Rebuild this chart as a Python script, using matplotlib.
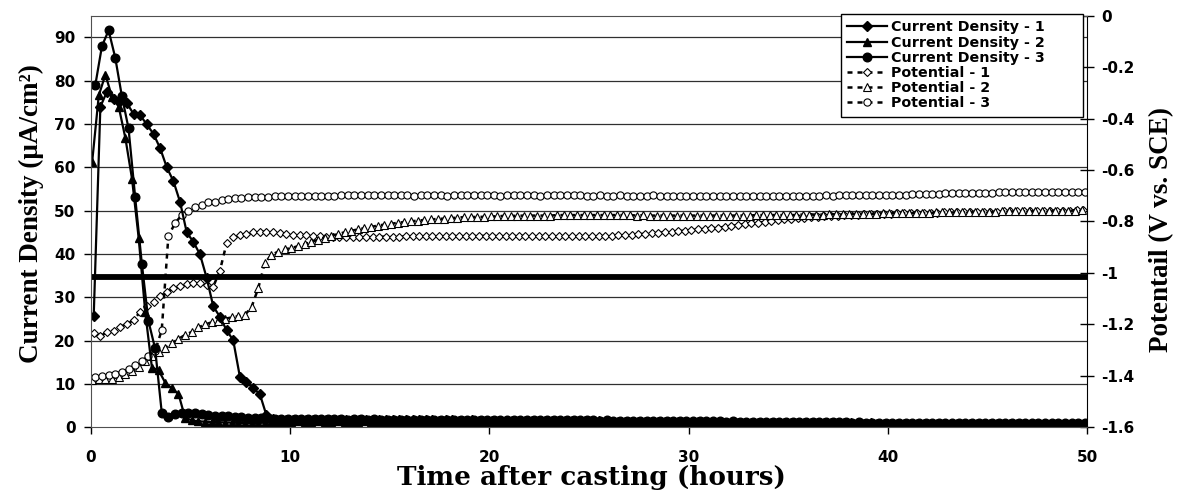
import numpy as np
import matplotlib.pyplot as plt

plt.rcParams.update({
    "font.family": "DejaVu Sans",
    "font.weight": "bold",
    "font.size": 11,
})

# readings every 20 min; first reading time (h) of each specimen
dt = 1 / 3
t0_1, t0_2, t0_3 = 0.15, 0.07, 0.23

# current density (uA/cm2)
cd_1 = [25.8, 74.0, 77.5, 75.7, 75.2, 74.8, 72.3, 72.0, 69.9, 67.7, 64.4, 60.0, 56.8, 52.0, 45.0,
        42.8, 39.9, 34.5, 27.9, 25.5, 22.4, 20.1, 11.7, 10.5, 9.0, 7.7, 2.8, 1.9, 1.8, 1.8,
        1.8, 1.8, 1.7, 1.8, 1.7, 1.7, 1.8, 1.7, 1.7, 1.7, 1.7, 1.6, 1.7, 1.7, 1.6,
        1.6, 1.7, 1.6, 1.6, 1.6, 1.6, 1.6, 1.5, 1.6, 1.6, 1.5, 1.5, 1.6, 1.5, 1.5,
        1.5, 1.5, 1.5, 1.5, 1.4, 1.5, 1.4, 1.5, 1.4, 1.4, 1.4, 1.4, 1.4, 1.3, 1.4,
        1.3, 1.4, 1.3, 1.3, 1.3, 1.3, 1.3, 1.2, 1.3, 1.2, 1.2, 1.2, 1.2, 1.2, 1.2,
        1.1, 1.2, 1.1, 1.1, 1.1, 1.1, 1.1, 1.1, 1.0, 1.1, 1.0, 1.0, 1.0, 1.0, 1.0,
        1.0, 1.0, 0.9, 1.0, 0.9, 0.9, 0.9, 0.9, 0.9, 0.9, 0.9, 0.8, 0.9, 0.8, 0.8,
        0.8, 0.8, 0.8, 0.8, 0.8, 0.8, 0.8, 0.7, 0.8, 0.7, 0.7, 0.7, 0.7, 0.7, 0.7,
        0.7, 0.7, 0.7, 0.7, 0.7, 0.7, 0.6, 0.7, 0.7, 0.6, 0.7, 0.6, 0.6, 0.7, 0.6]
cd_2 = [61.2, 76.6, 81.4, 76.2, 74.0, 66.8, 57.4, 43.8, 26.5, 13.8, 13.2, 10.3, 9.0, 7.7, 2.2,
        1.6, 1.4, 1.3, 1.2, 1.2, 1.1, 1.1, 1.0, 1.0, 1.0, 1.0, 1.1, 1.2, 1.3, 1.3,
        1.3, 1.4, 1.3, 1.3, 1.4, 1.3, 1.3, 1.4, 1.3, 1.3, 1.3, 1.4, 1.3, 1.3, 1.3,
        1.3, 1.3, 1.2, 1.3, 1.3, 1.2, 1.3, 1.2, 1.2, 1.3, 1.2, 1.2, 1.2, 1.2, 1.2,
        1.2, 1.2, 1.1, 1.2, 1.1, 1.1, 1.2, 1.1, 1.1, 1.1, 1.1, 1.1, 1.1, 1.0, 1.1,
        1.0, 1.1, 1.0, 1.0, 1.0, 1.0, 1.0, 1.0, 1.0, 0.9, 1.0, 0.9, 0.9, 0.9, 0.9,
        0.9, 0.9, 0.9, 0.9, 0.9, 0.8, 0.9, 0.8, 0.8, 0.8, 0.8, 0.8, 0.8, 0.8, 0.8,
        0.8, 0.7, 0.8, 0.7, 0.7, 0.7, 0.7, 0.7, 0.7, 0.7, 0.7, 0.7, 0.6, 0.7, 0.6,
        0.6, 0.6, 0.6, 0.6, 0.6, 0.6, 0.6, 0.6, 0.6, 0.5, 0.6, 0.5, 0.5, 0.5, 0.5,
        0.5, 0.5, 0.5, 0.5, 0.5, 0.5, 0.5, 0.5, 0.5, 0.5, 0.5, 0.5, 0.5, 0.5, 0.5]
cd_3 = [79.0, 88.0, 91.6, 85.3, 76.4, 69.0, 53.1, 37.8, 24.5, 18.2, 3.4, 2.4, 3.0, 3.2, 3.3,
        3.2, 3.0, 2.9, 2.7, 2.6, 2.5, 2.4, 2.3, 2.2, 2.2, 2.1, 2.1, 2.0, 2.0, 2.0,
        1.9, 1.9, 1.9, 1.9, 1.9, 1.9, 1.9, 1.9, 1.8, 1.9, 1.9, 1.8, 1.9, 1.8, 1.8,
        1.8, 1.8, 1.8, 1.8, 1.8, 1.8, 1.8, 1.8, 1.8, 1.7, 1.8, 1.7, 1.8, 1.7, 1.7,
        1.7, 1.7, 1.7, 1.7, 1.7, 1.6, 1.7, 1.6, 1.7, 1.6, 1.6, 1.6, 1.6, 1.6, 1.6,
        1.6, 1.5, 1.6, 1.5, 1.5, 1.5, 1.5, 1.5, 1.5, 1.5, 1.5, 1.4, 1.5, 1.4, 1.4,
        1.4, 1.4, 1.4, 1.4, 1.4, 1.3, 1.4, 1.3, 1.3, 1.3, 1.3, 1.3, 1.3, 1.3, 1.3,
        1.2, 1.3, 1.2, 1.2, 1.2, 1.2, 1.2, 1.2, 1.2, 1.1, 1.2, 1.1, 1.1, 1.1, 1.1,
        1.1, 1.1, 1.1, 1.1, 1.0, 1.1, 1.0, 1.0, 1.0, 1.0, 1.0, 1.0, 1.0, 1.0, 1.0,
        1.0, 0.9, 1.0, 0.9, 0.9, 0.9, 0.9, 0.9, 0.9, 0.9, 0.9, 0.9, 0.9, 0.9, 0.9]

# potential (V vs. SCE)
pot_1 = [-1.234, -1.246, -1.229, -1.224, -1.209, -1.198, -1.183, -1.151, -1.129, -1.112, -1.090, -1.074, -1.060, -1.050, -1.043,
         -1.040, -1.040, -1.045, -1.053, -0.991, -0.885, -0.861, -0.853, -0.848, -0.842, -0.841, -0.839, -0.841, -0.844, -0.848,
         -0.851, -0.853, -0.854, -0.856, -0.858, -0.859, -0.859, -0.861, -0.861, -0.861, -0.861, -0.861, -0.861, -0.859, -0.859,
         -0.859, -0.859, -0.858, -0.858, -0.858, -0.858, -0.858, -0.858, -0.858, -0.856, -0.856, -0.858, -0.856, -0.856, -0.856,
         -0.856, -0.856, -0.858, -0.856, -0.856, -0.856, -0.858, -0.856, -0.858, -0.858, -0.858, -0.858, -0.858, -0.858, -0.858,
         -0.858, -0.858, -0.856, -0.856, -0.854, -0.853, -0.851, -0.849, -0.848, -0.846, -0.844, -0.842, -0.841, -0.837, -0.836,
         -0.834, -0.831, -0.829, -0.826, -0.824, -0.821, -0.817, -0.814, -0.810, -0.807, -0.804, -0.802, -0.799, -0.795, -0.792,
         -0.790, -0.787, -0.785, -0.783, -0.782, -0.780, -0.778, -0.777, -0.775, -0.773, -0.773, -0.772, -0.772, -0.770, -0.770,
         -0.770, -0.768, -0.768, -0.768, -0.767, -0.767, -0.767, -0.767, -0.765, -0.765, -0.765, -0.765, -0.763, -0.763, -0.763,
         -0.763, -0.763, -0.761, -0.761, -0.761, -0.761, -0.760, -0.760, -0.760, -0.760, -0.758, -0.758, -0.758, -0.756, -0.756]
pot_2 = [-1.416, -1.414, -1.414, -1.411, -1.404, -1.394, -1.382, -1.364, -1.344, -1.323, -1.308, -1.291, -1.274, -1.256, -1.241,
         -1.229, -1.212, -1.200, -1.192, -1.188, -1.178, -1.173, -1.168, -1.163, -1.133, -1.060, -0.961, -0.930, -0.917, -0.908,
         -0.903, -0.896, -0.888, -0.880, -0.871, -0.863, -0.856, -0.849, -0.842, -0.836, -0.831, -0.826, -0.821, -0.816, -0.812,
         -0.809, -0.805, -0.802, -0.799, -0.797, -0.794, -0.792, -0.790, -0.789, -0.787, -0.785, -0.783, -0.783, -0.782, -0.782,
         -0.780, -0.780, -0.778, -0.778, -0.778, -0.777, -0.777, -0.777, -0.777, -0.777, -0.775, -0.775, -0.775, -0.775, -0.775,
         -0.775, -0.775, -0.775, -0.775, -0.775, -0.775, -0.775, -0.777, -0.775, -0.777, -0.777, -0.777, -0.777, -0.777, -0.777,
         -0.777, -0.777, -0.777, -0.777, -0.777, -0.777, -0.777, -0.777, -0.777, -0.777, -0.775, -0.775, -0.775, -0.775, -0.775,
         -0.775, -0.775, -0.773, -0.773, -0.773, -0.773, -0.772, -0.772, -0.772, -0.772, -0.770, -0.770, -0.770, -0.770, -0.768,
         -0.768, -0.768, -0.768, -0.767, -0.767, -0.767, -0.767, -0.765, -0.765, -0.765, -0.765, -0.765, -0.763, -0.763, -0.763,
         -0.763, -0.763, -0.761, -0.761, -0.761, -0.761, -0.760, -0.760, -0.760, -0.760, -0.758, -0.758, -0.758, -0.758, -0.756]
pot_3 = [-1.403, -1.401, -1.398, -1.392, -1.384, -1.374, -1.359, -1.342, -1.323, -1.303, -1.222, -0.856, -0.807, -0.775, -0.761,
         -0.745, -0.736, -0.726, -0.723, -0.716, -0.714, -0.709, -0.708, -0.706, -0.706, -0.704, -0.704, -0.702, -0.702, -0.702,
         -0.701, -0.701, -0.701, -0.699, -0.699, -0.699, -0.699, -0.697, -0.697, -0.697, -0.697, -0.697, -0.697, -0.697, -0.697,
         -0.697, -0.697, -0.697, -0.699, -0.697, -0.697, -0.697, -0.697, -0.699, -0.697, -0.697, -0.697, -0.697, -0.697, -0.697,
         -0.697, -0.699, -0.697, -0.697, -0.697, -0.697, -0.697, -0.699, -0.697, -0.697, -0.697, -0.697, -0.697, -0.697, -0.699,
         -0.699, -0.697, -0.699, -0.699, -0.697, -0.699, -0.699, -0.699, -0.699, -0.697, -0.699, -0.699, -0.699, -0.699, -0.699,
         -0.699, -0.699, -0.699, -0.699, -0.699, -0.699, -0.699, -0.699, -0.699, -0.699, -0.699, -0.699, -0.699, -0.699, -0.699,
         -0.699, -0.699, -0.699, -0.699, -0.699, -0.697, -0.699, -0.697, -0.697, -0.697, -0.697, -0.697, -0.697, -0.697, -0.697,
         -0.697, -0.696, -0.696, -0.694, -0.694, -0.692, -0.692, -0.692, -0.691, -0.691, -0.691, -0.689, -0.689, -0.689, -0.689,
         -0.689, -0.687, -0.687, -0.687, -0.687, -0.686, -0.686, -0.686, -0.686, -0.686, -0.684, -0.684, -0.684, -0.684, -0.684]

ref_level = 34.7  # heavy horizontal reference line (left axis units)

t_1 = t0_1 + dt * np.arange(len(cd_1))
t_2 = t0_2 + dt * np.arange(len(cd_2))
t_3 = t0_3 + dt * np.arange(len(cd_3))

fig = plt.figure(figsize=(11.8, 5.01), dpi=100)
ax = fig.add_axes([0.0769, 0.1471, 0.8443, 0.8216])
ax2 = ax.twinx()
# current density drawn above the potential curves
ax.set_zorder(2)
ax2.set_zorder(1)
ax.patch.set_visible(False)

ax.set_xlim(0, 50)
ax.set_ylim(0, 95)
ax2.set_ylim(-1.6, 0)

# horizontal gridlines at the left-axis major ticks
for g in range(10, 100, 10):
    ax2.axhline(-1.6 + 1.6 * g / 95, color="#303030", lw=0.9, zorder=0)

ax.axhline(ref_level, color="black", lw=4.2, zorder=1)

cd_kw = dict(color="black", lw=1.6, mec="black", mfc="black")
ax.plot(t_1, cd_1, marker="D", ms=4.8, label="Current Density - 1", **cd_kw)
ax.plot(t_2, cd_2, marker="^", ms=6.2, label="Current Density - 2", **cd_kw)
ax.plot(t_3, cd_3, marker="o", ms=6.2, label="Current Density - 3", **cd_kw)

pot_kw = dict(color="black", lw=1.8, ls=(0, (2, 2)), mec="black", mfc="white", mew=0.8)
ax2.plot(t_1, pot_1, marker="D", ms=4.3, label="Potential - 1", **pot_kw)
ax2.plot(t_2, pot_2, marker="^", ms=5.6, label="Potential - 2", **pot_kw)
ax2.plot(t_3, pot_3, marker="o", ms=5.2, label="Potential - 3", **pot_kw)

ax.set_xticks(range(0, 51, 10))
ax.set_yticks(range(0, 91, 10))
pot_ticks = [-1.6, -1.4, -1.2, -1.0, -0.8, -0.6, -0.4, -0.2, 0.0]
ax2.set_yticks(pot_ticks)
ax2.set_yticklabels(["-1.6", "-1.4", "-1.2", "-1", "-0.8", "-0.6", "-0.4", "-0.2", "0"])

ax.tick_params(axis="y", direction="out", length=5, width=1, pad=6, labelsize=11)
ax.tick_params(axis="x", direction="out", length=5, width=1, pad=11, labelsize=11)
ax2.tick_params(axis="y", direction="inout", length=10, width=1, pad=5, labelsize=11)

for side in ["left", "bottom", "top"]:
    ax.spines[side].set_color("#505050")
ax.spines["right"].set_color("black")
for s in ax2.spines.values():
    s.set_visible(False)

serif = dict(family="Liberation Serif", weight="bold", size=19.5)
fig.text(591 / 1180, 1 - 478 / 501, "Time after casting (hours)", ha="center", va="center",
         family="DejaVu Serif", weight="bold", size=18.9)
fig.text(31 / 1180, 1 - 214 / 501, "Current Density (μA/cm²)", rotation=90,
         ha="center", va="center", **serif)
fig.text(1162 / 1180, 1 - 230 / 501, "Potentail (V vs. SCE)", rotation=90,
         ha="center", va="center", **serif)

h1, l1 = ax.get_legend_handles_labels()
h2, l2 = ax2.get_legend_handles_labels()
leg = ax.legend(h1 + h2, l1 + l2, loc="upper left", mode="expand",
                bbox_to_anchor=(841 / 1180, 1 - 122 / 501, 242 / 1180, 108 / 501),
                bbox_transform=fig.transFigure,
                prop=dict(family="DejaVu Sans", weight="bold", size=10.3),
                fancybox=False, edgecolor="black", framealpha=1, borderaxespad=0,
                borderpad=0.45, labelspacing=0.08, handlelength=2.8, handletextpad=0.25)
leg.get_frame().set_linewidth(1.0)

fig.savefig("out.png", dpi=100)
